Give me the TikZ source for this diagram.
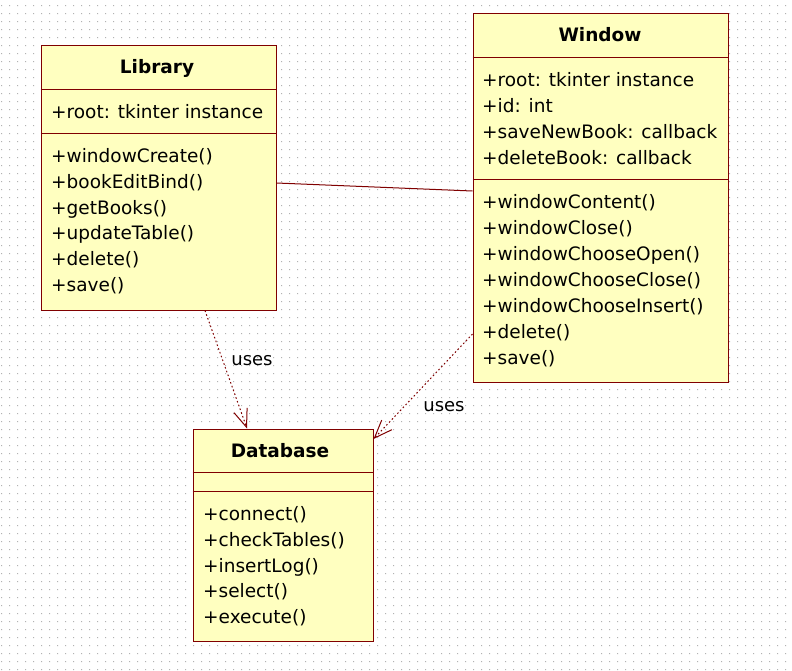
\documentclass[tikz,border=0pt]{standalone}
\usepackage{fontspec}
\setmainfont{DejaVu Sans}
\usetikzlibrary{arrows.meta}
\definecolor{umlred}{RGB}{128,0,0}
\definecolor{umlfill}{RGB}{255,255,192}
\definecolor{griddot}{RGB}{178,178,178}
\tikzset{
  classbox/.style={draw=umlred, fill=umlfill, line width=1pt, rectangle, inner sep=0pt},
  sepline/.style={draw=umlred, line width=1pt},
  txt/.style={anchor=base west, inner sep=0pt, font=\fontsize{18.5}{22}\selectfont},
  ttl/.style={anchor=base, inner sep=0pt, font=\fontsize{18.5}{22}\selectfont\bfseries},
  assoc/.style={draw=umlred, line width=1pt},
  dep/.style={draw=umlred, line width=1pt, dash pattern=on 1.6pt off 2.4pt,
    -{Straight Barb[length=18pt,width=14pt]}},
  lbl/.style={inner sep=0pt, font=\fontsize{18}{22}\selectfont}
}
\begin{document}
\begin{tikzpicture}[x=1pt,y=-1pt]
\useasboundingbox (0,0) rectangle (792,670);
\fill[white] (0,0) rectangle (792,670);
% dotted grid
\foreach \gy in {5,13,...,669} {
  \fill[griddot] \foreach \gx in {1,9,...,789} {(\gx,\gy) rectangle ++(1,1)};
}

% Library
\node[classbox, minimum width=235pt, minimum height=265pt] (lib) at (158.5,177.5) {};
\draw[sepline] (lib.west |- 0,89.3) -- (lib.east |- 0,89.3);
\draw[sepline] (lib.west |- 0,133.3) -- (lib.east |- 0,133.3);
\node[ttl] (libt) at (157,73.5) {Library};
\node[txt] (liba1) at (51,118.5) {+root: tkinter instance};
\foreach \t [count=\i] in {+windowCreate(),+bookEditBind(),+getBooks(),+updateTable(),+delete(),+save()}
  \node[txt] (libm\i) at (51,{162.5+25.8*(\i-1)}) {\t};

% Window
\node[classbox, minimum width=255pt, minimum height=369pt] (win) at (600.5,197.5) {};
\draw[sepline] (win.west |- 0,57.3) -- (win.east |- 0,57.3);
\draw[sepline] (win.west |- 0,179) -- (win.east |- 0,179);
\node[ttl] (wint) at (600,41.7) {Window};
\foreach \t [count=\i] in {+root: tkinter instance,+id: int,+saveNewBook: callback,+deleteBook: callback}
  \node[txt] (wina\i) at (482,{86+26*(\i-1)}) {\t};
\foreach \t [count=\i] in {+windowContent(),+windowClose(),+windowChooseOpen(),+windowChooseClose(),+windowChooseInsert(),+delete(),+save()}
  \node[txt] (winm\i) at (482,{208+26*(\i-1)}) {\t};

% Database
\node[classbox, minimum width=180pt, minimum height=212pt] (db) at (283,535) {};
\draw[sepline] (db.west |- 0,472.5) -- (db.east |- 0,472.5);
\draw[sepline] (db.west |- 0,491) -- (db.east |- 0,491);
\node[ttl] (dbt) at (280,457.3) {Database};
\foreach \t [count=\i] in {+connect(),+checkTables(),+insertLog(),+select(),+execute()}
  \node[txt] (dbm\i) at (203,{520.5+25.75*(\i-1)}) {\t};

% connectors
\draw[assoc] ([yshift=-5.5pt]lib.east) -- ([yshift=6.5pt]win.west);
\draw[dep] ([xshift=46.5pt]lib.south) -- ([xshift=-36pt]db.north);
\draw[dep] ([yshift=-136.5pt]win.west) -- ([yshift=96pt]db.east);
\node[lbl] (uses1) at (252,361) {uses};
\node[lbl] (uses2) at (444,407) {uses};
\end{tikzpicture}
\end{document}
